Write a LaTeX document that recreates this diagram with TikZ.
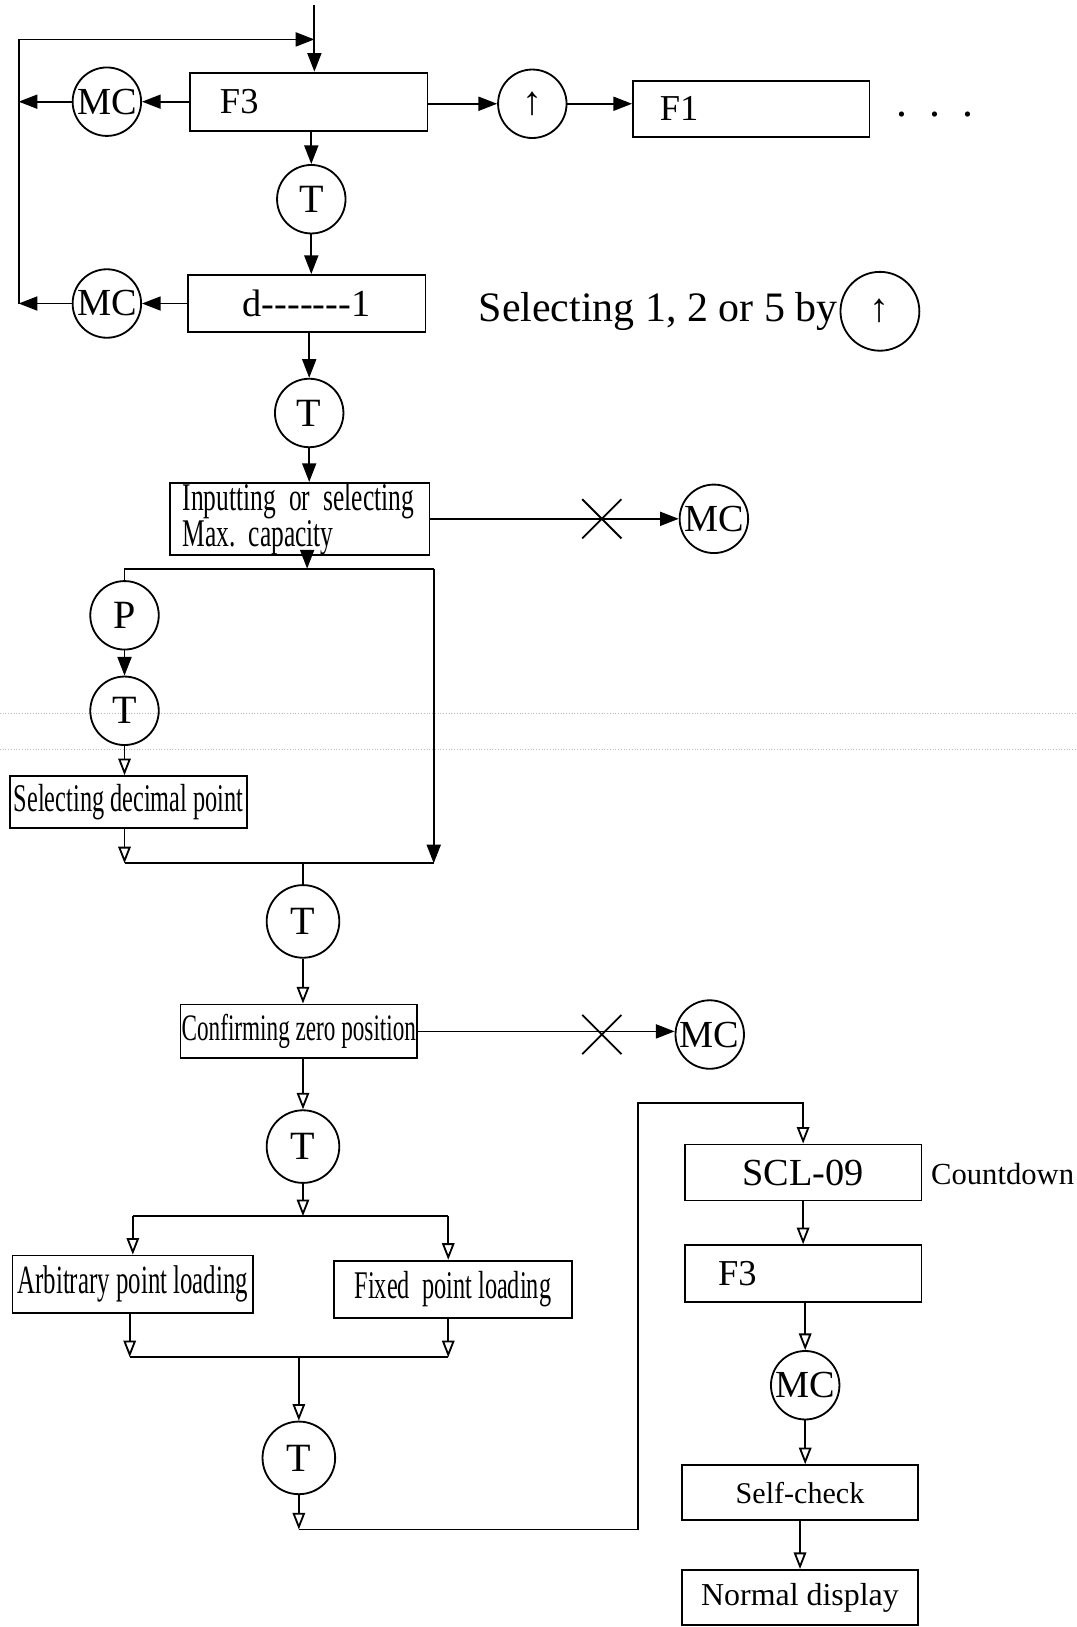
\documentclass[tikz,border=0pt]{standalone}
\usepackage{fontspec}
\setmainfont{Liberation Serif}
\newfontfamily\narrowfont[FakeStretch=0.62]{Liberation Serif}
\newfontfamily\halfnarrowfont[FakeStretch=0.65]{Liberation Serif}
\usetikzlibrary{arrows.meta,positioning,calc,shapes.misc}
\newcommand{\fsz}[1]{\fontsize{#1pt}{#1pt}\selectfont}

\tikzset{
  blk/.style={draw, line width=1pt, inner sep=0pt, minimum height=11mm},
  key/.style={draw, circle, line width=1pt, inner sep=0pt, minimum size=13.2mm, font=\fsz{22}},
  bigkey/.style={key, minimum size=14mm},
  xmark/.style={cross out, draw, line width=1pt, minimum size=7.2mm, inner sep=0pt},
  fa/.style={line width=1pt, -{Triangle[length=3.6mm,width=2.7mm]}},
  oa/.style={line width=1pt, -{Triangle[open,length=3.2mm,width=2.4mm]}},
  ln/.style={line width=1pt},
}

\begin{document}
\begin{tikzpicture}[x=0.2mm,y=-0.2mm]
\useasboundingbox (0,0) rectangle (1037,1568);

% righe della scansione
\foreach \y in {688,722}
  \draw[gray!55, densely dotted, line width=0.5pt] (0,\y) -- (1037,\y);

% Riquadri
\node[blk, minimum width=45.8mm, minimum height=11.2mm, text width=34.2mm, inner xsep=5.8mm, align=left, font=\fsz{20}] (f3a) at (297.5,98) {F3};
\node[blk, minimum width=45.6mm, minimum height=10.8mm, text width=35.2mm, inner xsep=5.2mm, align=left, font=\fsz{20}] (f1) at (724,105) {F1};
\node[font=\fsz{24}, inner sep=0pt] (more) at (901,110) {.\ \ .\ \ .};
\node[blk, minimum width=45.8mm, font=\fsz{21}] (dbox) at (295.5,292.5) {d\foreach \i in {1,...,7}{\mbox{-}}1};
\node[blk, minimum width=50mm, minimum height=12.8mm, text width=45.2mm, inner xsep=2.4mm, align=left, font=\halfnarrowfont\fontsize{21.5pt}{17pt}\selectfont] (inbox) at (289,500) {\mbox{Inputting or selecting}\\\mbox{Max.\ capacity}};
\node[blk, minimum width=45.6mm, minimum height=10mm, font=\narrowfont\fsz{21.5}] (decbox) at (124,773) {Selecting decimal point};
\node[blk, minimum width=45.6mm, minimum height=10.4mm, font=\narrowfont\fsz{20.5}] (confbox) at (288,994) {Confirming zero position};
\node[blk, minimum width=46.4mm, font=\narrowfont\fsz{22}] (arbbox) at (128,1237.5) {Arbitrary point loading};
\node[blk, minimum width=45.8mm, font=\narrowfont\fsz{21.5}] (fixbox) at (436.5,1242.5) {Fixed\ \ point loading};
\node[blk, minimum width=45.6mm, minimum height=10.8mm, font=\fsz{21}] (scl) at (774,1130) {SCL-09};
\node[blk, minimum width=45.6mm, text width=32.8mm, inner xsep=6.4mm, align=left, font=\fsz{20}] (f3b) at (774,1227.5) {F3};
\node[blk, minimum width=45.6mm, minimum height=10.6mm, font=\fsz{16.5}] (self) at (771,1438.5) {Self-check};
\node[blk, minimum width=45.6mm, minimum height=10.6mm, font=\fsz{17.5}] (norm) at (771,1539.5) {Normal display};

% Testi
\node[anchor=west, inner sep=0pt, font=\fsz{23}] (sel) at (461,300) {Selecting 1, 2 or 5 by};
\node[anchor=west, inner sep=0pt, font=\fsz{16.8}] (cd) at (897,1131) {Countdown};

% Tasti
\foreach \n/\x/\y in {1/103/98, 2/103/292.5, 3/688/500, 4/684/997, 5/776/1335}
  \node[key, font=\fsz{21}] (mc\n) at (\x,\y) {MC};
\foreach \n/\x/\y in {1/300/192, 2/298/398, 3/120/685}
  \node[key] (t\n) at (\x,\y) {T};
\foreach \n/\x/\y in {4/292/888, 5/292/1105, 6/288/1405}
  \node[bigkey] (t\n) at (\x,\y) {T};
\node[key] (p) at (120,593) {P};
\node[key] (up1) at (513,100) {↑};
\node[key, minimum size=15.2mm] (up2) at (848,300) {↑};
\node[xmark] (x1) at (580,500) {};
\node[xmark] (x2) at (580,997) {};

% Punti di snodo
\coordinate (in) at (303,5);
\coordinate (lt) at (18,38);
\coordinate (lb) at (18,292.5);
\coordinate (j1) at (296,548);
\coordinate (jr) at (418,548);
\coordinate (m0) at (120,832);
\coordinate (m1) at (418,832);
\coordinate (j3l) at (128,1172);
\coordinate (j3) at (292,1172);
\coordinate (j3r) at (432,1172);
\coordinate (j4l) at (125,1308);
\coordinate (j4m) at (288,1308);
\coordinate (j4r) at (432,1308);
\coordinate (j5) at (288,1474);
\coordinate (rv) at (615,1063);

% Frecce in alto
\draw[fa] (in) -- (in |- f3a.north);
\draw[fa] (lb) -- (lt) -- (in |- lt);
\draw[fa] (f3a.west |- mc1) -- (mc1.east);
\draw[fa] (mc1.west) -- (mc1.west -| lt);
\draw[fa] (f3a.east |- up1) -- (up1.west);
\draw[fa] (up1.east) -- (up1.east -| f1.west);
\draw[fa] (f3a.south -| t1) -- (t1.north);
\draw[fa] (t1.south) -- (t1.south |- dbox.north);
\draw[fa] (dbox.west) -- (dbox.west -| mc2.east);
\draw[fa] (mc2.west) -- (lb);
\draw[fa] (dbox.south -| t2) -- (t2.north);
\draw[fa] (t2.south) -- (t2.south |- inbox.north);
\draw[fa] (inbox.east) -- (mc3.west);
\draw[fa] (inbox.south -| j1) -- (j1);

% Ramo punto decimale
\draw[ln] (p.north) |- (jr);
\draw[fa] (jr) -- (m1);
\draw[fa] (p.south) -- (t3.north);
\draw[oa] (t3.south) -- (t3.south |- decbox.north);
\draw[oa] (decbox.south -| m0) -- (m0);
\draw[ln] (m0) -- (m1);
\draw[ln] (t4.north) -- (t4.north |- m1);

% Zero e carico
\draw[oa] (t4.south) -- (t4.south |- confbox.north);
\draw[fa] (confbox.east) -- (confbox.east -| mc4.west);
\draw[oa] (confbox.south -| t5) -- (t5.north);
\draw[oa] (t5.south) -- (j3);
\draw[ln] (j3l) -- (j3r);
\draw[oa] (j3l) -- (j3l |- arbbox.north);
\draw[oa] (j3r) -- (j3r |- fixbox.north);
\draw[oa] (arbbox.south -| j4l) -- (j4l);
\draw[oa] (fixbox.south -| j4r) -- (j4r);
\draw[ln] (j4l) -- (j4r);
\draw[oa] (j4m) -- (t6.north);
\draw[oa] (t6.south) -- (j5);

% Colonna destra
\draw[oa] (j5) -| (rv) -| (scl.north);
\draw[oa] (scl.south) -- (scl.south |- f3b.north);
\draw[oa] (f3b.south -| mc5) -- (mc5.north);
\draw[oa] (mc5.south) -- (mc5.south |- self.north);
\draw[oa] (self.south) -- (norm.north);

\end{tikzpicture}
\end{document}
